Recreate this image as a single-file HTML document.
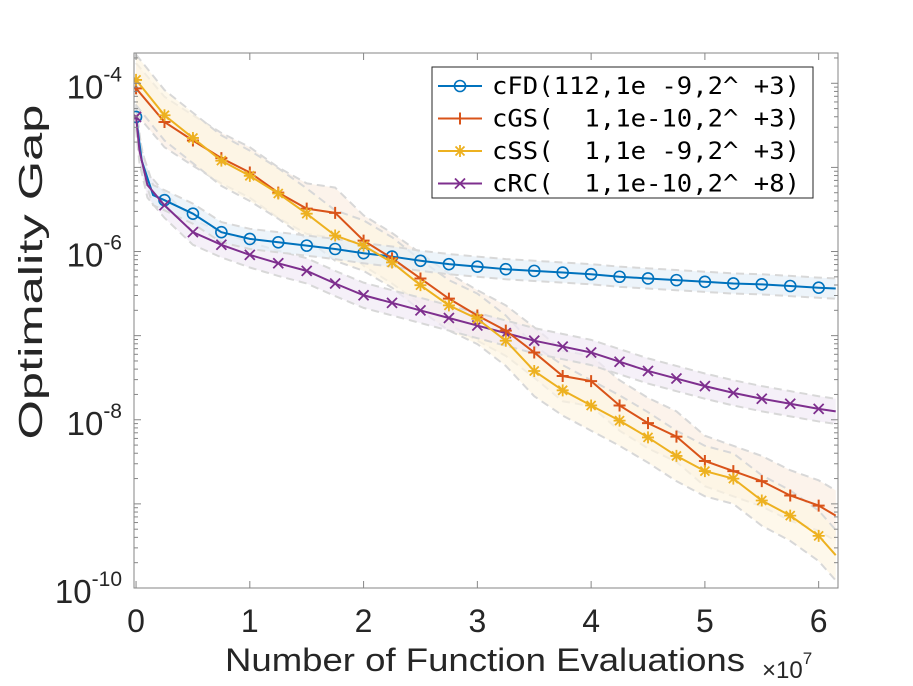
<!DOCTYPE html>
<html><head><meta charset="utf-8"><style>
body{margin:0;background:#fff;}
svg{display:block;font-family:"Liberation Sans",sans-serif;}
</style></head><body>
<svg id="chart" width="913" height="686"></svg>
<script>
const xTicks=[0,1,2,3,4,5,6];
const yTickExps=[-4,-6,-8,-10];
const seriesNames=["cFD(112,1e -9,2^ +3)","cGS(  1,1e-10,2^ +3)","cSS(  1,1e -9,2^ +3)","cRC(  1,1e-10,2^ +8)"];
const cfdX=[0,0.05,0.15,0.25,0.5,0.75,1,1.25,1.5,1.75,2,2.25,2.5,2.75,3,3.25,3.5,3.75,4,4.25,4.5,4.75,5,5.25,5.5,5.75,6,6.15];
const cfdY=[-4.40,-4.92,-5.33,-5.39,-5.55,-5.77,-5.85,-5.89,-5.93,-5.97,-6.02,-6.06,-6.11,-6.15,-6.18,-6.21,-6.23,-6.25,-6.27,-6.30,-6.32,-6.34,-6.36,-6.38,-6.39,-6.41,-6.43,-6.44];
const crcX=[0,0.03,0.1,0.25,0.5,0.75,1,1.25,1.5,1.75,2,2.25,2.5,2.75,3,3.25,3.5,3.75,4,4.25,4.5,4.75,5,5.25,5.5,5.75,6,6.15];
const crcY=[-4.40,-4.80,-5.21,-5.45,-5.77,-5.92,-6.04,-6.14,-6.23,-6.38,-6.52,-6.61,-6.70,-6.79,-6.88,-6.97,-7.06,-7.13,-7.20,-7.31,-7.42,-7.51,-7.60,-7.68,-7.75,-7.81,-7.87,-7.90];
const cgsX=[0,0.25,0.5,0.75,1,1.25,1.5,1.75,2,2.25,2.5,2.75,3,3.25,3.5,3.75,4,4.25,4.5,4.75,5,5.25,5.5,5.75,6,6.15];
const cgsY=[-4.06,-4.46,-4.68,-4.89,-5.06,-5.30,-5.49,-5.54,-5.87,-6.08,-6.32,-6.56,-6.76,-6.94,-7.20,-7.48,-7.54,-7.83,-8.04,-8.20,-8.49,-8.61,-8.73,-8.90,-9.02,-9.14];
const cssX=[0,0.25,0.5,0.75,1,1.25,1.5,1.75,2,2.25,2.5,2.75,3,3.25,3.5,3.75,4,4.25,4.5,4.75,5,5.25,5.5,5.75,6,6.15];
const cssY=[-3.96,-4.38,-4.65,-4.92,-5.10,-5.31,-5.55,-5.81,-5.93,-6.13,-6.40,-6.64,-6.80,-7.06,-7.42,-7.65,-7.83,-8.01,-8.21,-8.43,-8.61,-8.70,-8.96,-9.14,-9.38,-9.61];
const bandHalf=[0.12,0.3,0.3,0.15];

const svg=document.getElementById('chart');
const NS='http://www.w3.org/2000/svg';
const L=134,R=838,T=53,B=588;
const X0=-0.018,X1=6.17,Y0=-10,Y1=-3.64;
const sx=v=>L+(v-X0)/(X1-X0)*(R-L);
const sy=v=>B-(v-Y0)/(Y1-Y0)*(B-T);
function mk(tag,at,parent){const e=document.createElementNS(NS,tag);for(const k in at)e.setAttribute(k,at[k]);(parent||svg).appendChild(e);return e;}

const defs=mk('defs',{});const cp=mk('clipPath',{id:'pc'},defs);mk('rect',{x:L,y:T,width:R-L,height:B-T},cp);
const plot=mk('g',{'clip-path':'url(#pc)'});



const cols=['#0072BD','#D95319','#EDB120','#7E2F8E'];
const fills=['#e6f0f8','#fbeee3','#fdf5e3','#f1eaf5'];
const xs=[cfdX,cgsX,cssX,crcX], ys=[cfdY,cgsY,cssY,crcY];
const keys=['cfd','cgs','css','crc'];
[1,2,3,0].forEach(i=>{
  const X=xs[i],Y=ys[i],h=bandHalf[i];
  let up=X.map((x,j)=>sx(x)+','+sy(Y[j]+h)).join(' ');
  let dn=X.map((x,j)=>sx(x)+','+sy(Y[j]-h)).reverse().join(' ');
  const b=mk('polygon',{points:up+' '+dn,fill:fills[i],'fill-opacity':0.7},plot);
  
  
  [h,-h].forEach(o=>{
    const e=mk('polyline',{points:X.map((x,j)=>sx(x)+','+sy(Y[j]+o)).join(' '),fill:'none',stroke:'#d8d8d8','stroke-width':2,'stroke-dasharray':'8,5'},plot);
    
    
  });
});
function marker(i,cx,cy,g){
  const c=cols[i],s=6;
  if(i===0)mk('circle',{cx,cy,r:5.5,fill:'none',stroke:c,'stroke-width':1.6},g);
  else if(i===1){mk('path',{d:`M${cx-s} ${cy}H${cx+s}M${cx} ${cy-s}V${cy+s}`,stroke:c,'stroke-width':2},g);}
  else if(i===2){mk('path',{d:`M${cx-s} ${cy}H${cx+s}M${cx} ${cy-s}V${cy+s}M${cx-4.5} ${cy-4.5}L${cx+4.5} ${cy+4.5}M${cx-4.5} ${cy+4.5}L${cx+4.5} ${cy-4.5}`,stroke:c,'stroke-width':1.8},g);}
  else mk('path',{d:`M${cx-5} ${cy-5}L${cx+5} ${cy+5}M${cx-5} ${cy+5}L${cx+5} ${cy-5}`,stroke:c,'stroke-width':1.8},g);
}
[0,3,1,2].forEach(i=>{
  const X=xs[i],Y=ys[i];
  const g=mk('g',{},plot);
  
  
  mk('polyline',{points:X.map((x,j)=>sx(x)+','+sy(Y[j])).join(' '),fill:'none',stroke:cols[i],'stroke-width':2},g);
  X.forEach((x,j)=>{ if(Math.abs(x*4-Math.round(x*4))<1e-6) marker(i,sx(x),sy(Y[j]),g); });
});

const ax=mk('g',{});


mk('rect',{x:L,y:T,width:R-L,height:B-T,fill:'none',stroke:'#868686','stroke-width':1},ax);
xTicks.forEach(t=>{
  const x=sx(t);
  mk('line',{x1:x,y1:B,x2:x,y2:B-7,stroke:'#868686'},ax);
  mk('line',{x1:x,y1:T,x2:x,y2:T+7,stroke:'#868686'},ax);
  const tx=mk('text',{x:x,y:B+44,'font-size':32,'text-anchor':'middle',fill:'#262626'},ax);
  tx.textContent=t;
  
  
});
for(let d=-10;d<-3;d++){for(let m=1;m<10;m++){const v=d+Math.log10(m);if(v<Y0||v>Y1)continue;const y=sy(v);const len=m===1?7:4;
  mk('line',{x1:L,y1:y,x2:L+len,y2:y,stroke:'#868686'},ax);mk('line',{x1:R,y1:y,x2:R-len,y2:y,stroke:'#868686'},ax);}}
yTickExps.forEach(e=>{
  const y=sy(e);
  const tx=mk('text',{x:122,y:y+15,'font-size':33,'text-anchor':'end',fill:'#262626'},ax);
  
  
  const a=mk('tspan',{},tx);a.textContent='10';
  const b=mk('tspan',{dy:-17,'font-size':21},tx);b.textContent=String(e);
});
const yl=mk('text',{x:0,y:0,'font-size':33,'text-anchor':'middle',fill:'#262626',textLength:335,lengthAdjust:'spacingAndGlyphs',transform:'translate(42,272) rotate(-90)'});
yl.textContent='Optimality Gap';


const xl=mk('text',{x:485,y:671,'font-size':32,'text-anchor':'middle',fill:'#262626',textLength:520,lengthAdjust:'spacingAndGlyphs'});
xl.textContent='Number of Function Evaluations';


const xm=mk('text',{x:762,y:678,'font-size':24,fill:'#262626'});


const m1=mk('tspan',{},xm);m1.textContent='×10';
const m2=mk('tspan',{dy:-14,'font-size':17},xm);m2.textContent='7';

const lg=mk('g',{});


mk('rect',{x:432,y:67,width:381,height:131,fill:'#fff',stroke:'#262626','stroke-width':1},lg);
seriesNames.forEach((n,k)=>{
  const i=k;const y=86+k*32.5;
  const e=mk('g',{},lg);
  
  
  mk('line',{x1:438,y1:y,x2:482,y2:y,stroke:cols[i],'stroke-width':2},e);
  marker(i,460,y,e);
  const t=mk('text',{x:492,y:y+8,'font-size':24,fill:'#000','font-family':'"DejaVu Sans Mono","Liberation Mono",monospace',textLength:308,lengthAdjust:'spacingAndGlyphs'},e);
  t.style.whiteSpace='pre';
  t.textContent=n;
});
</script>
</body></html>
